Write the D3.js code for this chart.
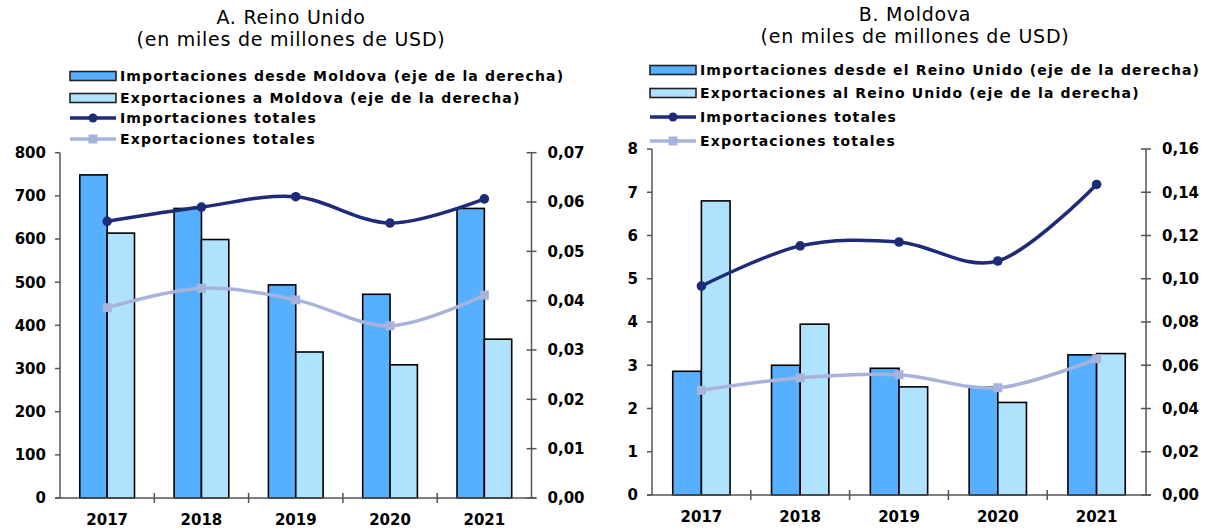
<!DOCTYPE html>
<html>
<head>
<meta charset="utf-8">
<script src="https://cdn.jsdelivr.net/npm/d3@7"></script>
<style>
  body { margin: 0; background: #fff; }
  text { font-family: "DejaVu Sans", Verdana, sans-serif; fill: #000; }
</style>
</head>
<body>
<svg id="chart" width="1208" height="530"></svg>
<script>
const years = ['2017', '2018', '2019', '2020', '2021'];

// A. Reino Unido
const ukImportsFromMd = [0.0655, 0.0587, 0.0432, 0.0413, 0.0587]; // right axis
const ukExportsToMd = [0.0537, 0.0524, 0.0296, 0.0270, 0.0322]; // right axis
const ukTotalImports = [641, 674, 698, 637, 693];
const ukTotalExports = [441, 486, 459, 399, 470];
const ukLeftTicks = [0, 100, 200, 300, 400, 500, 600, 700, 800];
const ukRightTicks = [0, 0.01, 0.02, 0.03, 0.04, 0.05, 0.06, 0.07];

// B. Moldova
const mdImportsFromUk = [0.0572, 0.0600, 0.0586, 0.0500, 0.0648]; // right axis
const mdExportsToUk = [0.1360, 0.0790, 0.0500, 0.0428, 0.0654]; // right axis
const mdTotalImports = [4.83, 5.76, 5.85, 5.41, 7.18];
const mdTotalExports = [2.42, 2.71, 2.78, 2.48, 3.15];
const mdLeftTicks = [0, 1, 2, 3, 4, 5, 6, 7, 8];
const mdRightTicks = [0, 0.02, 0.04, 0.06, 0.08, 0.10, 0.12, 0.14, 0.16];

const colors = {
  impBar: '#56b0ff',
  expBar: '#aee2fd',
  impLine: '#1e2b78',
  expLine: '#a8b3dc',
  axis: '#555'
};

const svg = d3.select('#chart');
const commaFmt = d => d3.format('.2f')(d).replace('.', ',');

function drawPanel(p) {
  const g = svg.append('g');
  const x = d3.scaleBand().domain(years).range([p.left, p.right]).paddingInner(0.42).paddingOuter(0.21);
  const xc = d3.scaleBand().domain(years).range([p.left, p.right]);
  const yL = d3.scaleLinear().domain([0, p.leftTicks[p.leftTicks.length - 1]]).range([p.bottom, p.top]);
  const yR = d3.scaleLinear().domain([0, p.rightTicks[p.rightTicks.length - 1]]).range([p.bottom, p.top]);
  const bw = x.bandwidth() / 2;

  // titles
  p.title.forEach((t, i) => {
    g.append('text').attr('x', p.titleX).attr('y', p.titleY[i])
      .attr('text-anchor', 'middle').style('font-size', '19px').style('letter-spacing', '0.75px').text(t);
  });

  // bars (right axis)
  const bars = [
    { vals: p.impBars, color: colors.impBar, off: 0 },
    { vals: p.expBars, color: colors.expBar, off: bw }
  ];
  bars.forEach(b => {
    g.append('g').selectAll('rect').data(b.vals).join('rect')
      .attr('x', (d, i) => x(years[i]) + b.off)
      .attr('y', d => yR(d))
      .attr('width', bw)
      .attr('height', d => p.bottom - yR(d))
      .attr('fill', b.color)
      .attr('stroke', '#000')
      .attr('stroke-width', 1.6);
  });

  // axes
  const ax = g.append('g').attr('stroke', colors.axis).attr('stroke-width', 1.5);
  ax.append('line').attr('x1', p.left).attr('x2', p.left).attr('y1', p.top).attr('y2', p.bottom);
  ax.append('line').attr('x1', p.right).attr('x2', p.right).attr('y1', p.top).attr('y2', p.bottom);
  ax.append('line').attr('x1', p.left - 5).attr('x2', p.right + 5).attr('y1', p.bottom).attr('y2', p.bottom);
  p.leftTicks.forEach(t => {
    ax.append('line').attr('x1', p.left - 5).attr('x2', p.left).attr('y1', yL(t)).attr('y2', yL(t));
    g.append('text').attr('x', p.left - 14).attr('y', yL(t)).attr('dy', '0.36em')
      .attr('text-anchor', 'end').style('font-size', '15px').style('font-weight', 'bold').text(t);
  });
  p.rightTicks.forEach(t => {
    ax.append('line').attr('x1', p.right - 5).attr('x2', p.right + 5).attr('y1', yR(t)).attr('y2', yR(t));
    g.append('text').attr('x', p.right + 16).attr('y', yR(t)).attr('dy', '0.36em')
      .style('font-size', '15px').style('font-weight', 'bold').text(commaFmt(t));
  });
  years.forEach((yr, i) => {
    if (i > 0) {
      ax.append('line').attr('x1', xc(yr)).attr('x2', xc(yr)).attr('y1', p.bottom - 5).attr('y2', p.bottom + 5);
    }
    g.append('text').attr('x', xc(yr) + xc.bandwidth() / 2).attr('y', p.yearY)
      .attr('text-anchor', 'middle').style('font-size', '15px').style('font-weight', 'bold').text(yr);
  });

  // lines (left axis)
  const cx = i => xc(years[i]) + xc.bandwidth() / 2;
  const line = d3.line().x((d, i) => cx(i)).y(d => yL(d)).curve(d3.curveCardinal.tension(0));
  g.append('path').datum(p.totExp).attr('d', line).attr('fill', 'none')
    .attr('stroke', colors.expLine).attr('stroke-width', 3.5);
  g.append('g').selectAll('rect').data(p.totExp).join('rect')
    .attr('x', (d, i) => cx(i) - 4.5).attr('y', d => yL(d) - 4.5)
    .attr('width', 9).attr('height', 9).attr('fill', colors.expLine);
  g.append('path').datum(p.totImp).attr('d', line).attr('fill', 'none')
    .attr('stroke', colors.impLine).attr('stroke-width', 3.5);
  g.append('g').selectAll('circle').data(p.totImp).join('circle')
    .attr('cx', (d, i) => cx(i)).attr('cy', d => yL(d)).attr('r', 4.8).attr('fill', colors.impLine);

  // legend
  const lg = g.append('g');
  const sx = p.legendX, sw = 46;
  p.legend.forEach((label, i) => {
    const yy = p.legendY[i];
    if (i < 2) {
      lg.append('rect').attr('x', sx).attr('y', yy - 4.5).attr('width', sw).attr('height', 9)
        .attr('fill', i === 0 ? colors.impBar : colors.expBar).attr('stroke', '#222').attr('stroke-width', 1.6);
    } else {
      const c = i === 2 ? colors.impLine : colors.expLine;
      lg.append('line').attr('x1', sx).attr('x2', sx + sw).attr('y1', yy).attr('y2', yy)
        .attr('stroke', c).attr('stroke-width', 3.5);
      if (i === 2) {
        lg.append('circle').attr('cx', sx + sw / 2).attr('cy', yy).attr('r', 4.5).attr('fill', c);
      } else {
        lg.append('rect').attr('x', sx + sw / 2 - 4.5).attr('y', yy - 4.5).attr('width', 9).attr('height', 9).attr('fill', c);
      }
    }
    lg.append('text').attr('x', sx + sw + 4).attr('y', yy).attr('dy', '0.36em')
      .style('font-size', '14px').style('font-weight', 'bold').style('letter-spacing', '1.15px').text(label);
  });
}

drawPanel({
  left: 60, right: 531.5, top: 152.7, bottom: 498, yearY: 525,
  title: ['A. Reino Unido', '(en miles de millones de USD)'], titleX: 291, titleY: [24, 46],
  impBars: ukImportsFromMd, expBars: ukExportsToMd,
  totImp: ukTotalImports, totExp: ukTotalExports,
  leftTicks: ukLeftTicks, rightTicks: ukRightTicks,
  legendX: 70, legendY: [76, 98, 118, 139],
  legend: ['Importaciones desde Moldova (eje de la derecha)', 'Exportaciones a Moldova (eje de la derecha)',
    'Importaciones totales', 'Exportaciones totales']
});

drawPanel({
  left: 652, right: 1146, top: 149, bottom: 495, yearY: 522,
  title: ['B. Moldova', '(en miles de millones de USD)'], titleX: 915, titleY: [21, 43],
  impBars: mdImportsFromUk, expBars: mdExportsToUk,
  totImp: mdTotalImports, totExp: mdTotalExports,
  leftTicks: mdLeftTicks, rightTicks: mdRightTicks,
  legendX: 650, legendY: [70, 93, 117, 141],
  legend: ['Importaciones desde el Reino Unido (eje de la derecha)', 'Exportaciones al Reino Unido (eje de la derecha)',
    'Importaciones totales', 'Exportaciones totales']
});
</script>
</body>
</html>
